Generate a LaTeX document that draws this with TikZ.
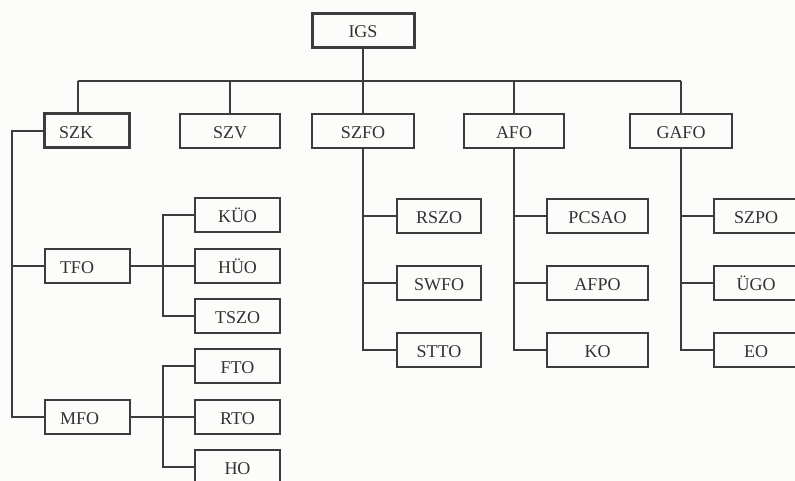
\documentclass[tikz,border=0pt]{standalone}
\usepackage{fontspec}
\setmainfont{Liberation Serif}
\definecolor{ink}{RGB}{60,60,60}
\definecolor{txt}{RGB}{50,50,50}
\definecolor{paper}{RGB}{252,252,250}
\begin{document}
\begin{tikzpicture}[x=1pt,y=-1pt,
  box/.style={draw=ink,line width=1.5pt,minimum height=34pt,inner sep=0pt,
    text height=14.5pt,text depth=0pt,
    text=txt,font=\fontsize{18}{19}\selectfont},
  lbox/.style={box,text width=#1,align=left,execute at begin node={\hspace*{15pt}}},
  bbox/.style={line width=3pt},
  wire/.style={draw=ink,line width=1.5pt}]
\path[use as bounding box,fill=paper] (0,0) rectangle (795,481);
\clip (0,0) rectangle (795,481);
% top
\node[box,bbox,minimum width=102pt] (igs) at (363,30.5) {IGS};
\node[lbox=85pt,bbox] (szk) at (86.5,131) {SZK};
\node[box,minimum width=100pt] (szv) at (230,131) {SZV};
\node[box,minimum width=102pt] (szfo) at (363,131) {SZFO};
\node[box,minimum width=100pt] (afo) at (514,131) {AFO};
\node[box,minimum width=102pt] (gafo) at (681,131) {GAFO};
% SZK subtree
\node[lbox=85pt] (tfo) at (87.5,266) {TFO};
\node[lbox=85pt] (mfo) at (87.5,417) {MFO};
\node[box,minimum width=85pt] (kuo) at (237.5,215) {KÜO};
\node[box,minimum width=85pt] (huo) at (237.5,266) {HÜO};
\node[box,minimum width=85pt] (tszo) at (237.5,316) {TSZO};
\node[box,minimum width=85pt] (fto) at (237.5,366) {FTO};
\node[box,minimum width=85pt] (rto) at (237.5,417) {RTO};
\node[box,minimum width=85pt] (ho) at (237.5,467) {HO};
% SZFO subtree
\node[box,minimum width=84pt] (rszo) at (439,216) {RSZO};
\node[box,minimum width=84pt] (swfo) at (439,283) {SWFO};
\node[box,minimum width=84pt] (stto) at (439,350) {STTO};
% AFO subtree
\node[box,minimum width=101pt] (pcsao) at (597.5,216) {PCSAO};
\node[box,minimum width=101pt] (afpo) at (597.5,283) {AFPO};
\node[box,minimum width=101pt] (ko) at (597.5,350) {KO};
% GAFO subtree
\node[box,minimum width=84pt] (szpo) at (756,216) {SZPO};
\node[box,minimum width=84pt] (ugo) at (756,283) {ÜGO};
\node[box,minimum width=84pt] (eo) at (756,350) {EO};
% bus
\coordinate (busL) at (78,81);
\coordinate (busR) at (681,81);
\draw[wire] (igs.south) -- (igs.south |- busL);
\draw[wire] (busL) -- (busR);
\draw[wire] (busL) -- (busL |- szk.north);
\draw[wire] (szv.north |- busL) -- (szv.north);
\draw[wire] (szfo.north |- busL) -- (szfo.north);
\draw[wire] (afo.north |- busL) -- (afo.north);
\draw[wire] (busR) -- (gafo.north);
% SZK spine
\coordinate (spL) at (12,131);
\draw[wire] (szk.west) -- (spL) -- (spL |- mfo.west) -- (mfo.west);
\draw[wire] (spL |- tfo.west) -- (tfo.west);
% TFO fan
\coordinate (tx) at (163,266);
\draw[wire] (tfo.east) -- (huo.west);
\draw[wire] (kuo.west) -- (tx |- kuo.west) -- (tx |- tszo.west) -- (tszo.west);
% MFO fan
\draw[wire] (mfo.east) -- (rto.west);
\draw[wire] (fto.west) -- (tx |- fto.west) -- (tx |- ho.west) -- (ho.west);
% SZFO
\draw[wire] (szfo.south) -- (szfo.south |- stto.west) -- (stto.west);
\draw[wire] (szfo.south |- rszo.west) -- (rszo.west);
\draw[wire] (szfo.south |- swfo.west) -- (swfo.west);
% AFO
\draw[wire] (afo.south) -- (afo.south |- ko.west) -- (ko.west);
\draw[wire] (afo.south |- pcsao.west) -- (pcsao.west);
\draw[wire] (afo.south |- afpo.west) -- (afpo.west);
% GAFO
\draw[wire] (gafo.south) -- (gafo.south |- eo.west) -- (eo.west);
\draw[wire] (gafo.south |- szpo.west) -- (szpo.west);
\draw[wire] (gafo.south |- ugo.west) -- (ugo.west);
\end{tikzpicture}
\end{document}
